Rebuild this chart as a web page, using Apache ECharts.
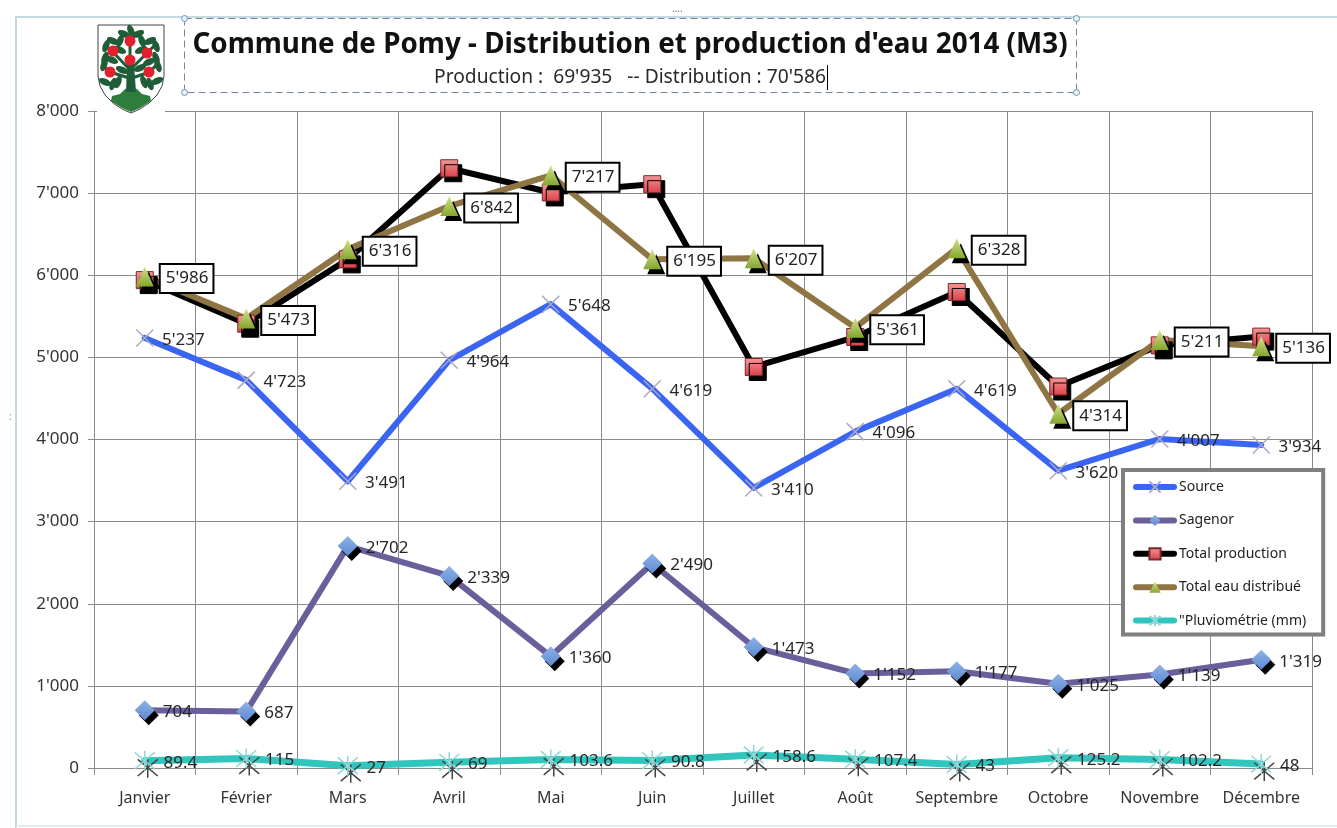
<!DOCTYPE html>
<html>
<head>
<meta charset="utf-8">
<title>Commune de Pomy - Distribution et production d'eau 2014</title>
<style>
  html, body { margin: 0; padding: 0; background: #fff; }
  #chart { width: 1337px; height: 828px; }
</style>
<script src="https://cdn.jsdelivr.net/npm/echarts@6/dist/echarts.min.js"></script>
</head>
<body>
<div id="chart"></div>
<script>
// Données (M3)
const MONTHS = ['Janvier', 'Février', 'Mars', 'Avril', 'Mai', 'Juin', 'Juillet', 'Août', 'Septembre', 'Octobre', 'Novembre', 'Décembre'];
const SOURCE = [5237, 4723, 3491, 4964, 5648, 4619, 3410, 4096, 4619, 3620, 4007, 3934];
const SAGENOR = [704, 687, 2702, 2339, 1360, 2490, 1473, 1152, 1177, 1025, 1139, 1319];
const TOTAL_PROD = [5941, 5410, 6193, 7303, 7008, 7109, 4883, 5248, 5796, 4645, 5146, 5253];
const TOTAL_DIST = [5986, 5473, 6316, 6842, 7217, 6195, 6207, 5361, 6328, 4314, 5211, 5136];
const PLUIE = [89.4, 115, 27, 69, 103.6, 90.8, 158.6, 107.4, 43, 125.2, 102.2, 48];

const FONT = '"Noto Sans", sans-serif';
const GRID_COLOR = '#8a8a8a';
const TEXT_COLOR = '#262626';
const SHADOW = { shadowColor: '#000', shadowBlur: 0, shadowOffsetX: 4, shadowOffsetY: 5 };

// 5237 -> 5'237
const fmt = (v) => (v >= 1000 ? Math.floor(v / 1000) + "'" + String(v % 1000).padStart(3, '0') : String(v));

const gradient = (top, bottom) => ({
  type: 'linear', x: 0, y: 0, x2: 0, y2: 1,
  colorStops: [{ offset: 0, color: top }, { offset: 1, color: bottom }],
});

const plainLabel = {
  show: true, position: 'right', distance: 8, offset: [0, 2],
  fontFamily: FONT, fontSize: 17, color: TEXT_COLOR,
  formatter: (p) => fmt(p.value),
};
const boxLabel = {
  ...plainLabel, distance: 7, color: '#222',
  backgroundColor: '#fff', borderColor: '#000', borderWidth: 2, padding: [5, 4, 5, 5],
};

function lineSeries(name, data, color, width, extra) {
  return {
    name, data, type: 'line',
    showAllSymbol: true,
    clip: false,
    lineStyle: { color, width, cap: 'round', join: 'round' },
    emphasis: { disabled: true },
    animation: false,
    ...extra,
  };
}

// Armoiries, titre encadré et cadre de sélection : décor autour du graphique
function decor() {
  const dark = '#1f5c38', green = '#2f7d3c', red = '#e3202e';
  const els = [];
  const frame = { stroke: '#c3dbe0', lineWidth: 2, fill: null };
  els.push({ type: 'polyline', shape: { points: [[16, 828], [16, 17], [1337, 17]] }, style: frame, z: 1 });
  els.push({ type: 'line', shape: { x1: 16, y1: 826, x2: 1337, y2: 826 }, style: { stroke: '#dfeef1', lineWidth: 2 }, z: 1 });
  els.push({ type: 'text', x: 672, y: 4, style: { text: '....', font: '10px ' + FONT, fill: '#777' }, z: 1 });
  els.push({ type: 'text', x: 9, y: 412, style: { text: ':', font: '10px ' + FONT, fill: '#888' }, z: 1 });
  // cadre pointillé du titre
  els.push({
    type: 'rect', shape: { x: 184.5, y: 18.5, width: 892, height: 74 },
    style: { fill: null, stroke: '#75879a', lineWidth: 1, lineDash: [7, 4] }, z: 20,
  });
  [[184.5, 18.5], [1076.5, 18.5], [184.5, 92.5], [1076.5, 92.5]].forEach(([cx, cy]) => {
    els.push({ type: 'circle', shape: { cx, cy, r: 3 }, style: { fill: '#e8f1f8', stroke: '#6d94b8', lineWidth: 1 }, z: 21 });
  });
  // curseur de saisie
  els.push({ type: 'line', shape: { x1: 827.5, y1: 65, x2: 827.5, y2: 90 }, style: { stroke: '#000', lineWidth: 1 }, z: 21 });
  // armoiries
  els.push({ type: 'rect', shape: { x: 97, y: 22, width: 68, height: 94 }, style: { fill: '#fff' }, z: 20 });
  els.push({
    type: 'polygon',
    shape: { points: [[98, 25], [164, 25], [164, 76], [162, 86], [157, 95], [149, 103], [140, 109], [131, 113], [122, 109], [113, 103], [105, 95], [100, 86], [98, 76]] },
    style: { fill: '#fff', stroke: '#444', lineWidth: 1 }, z: 21,
  });
  els.push({
    type: 'polygon',
    shape: { points: [[111, 101], [112, 96], [120, 94], [125, 89], [131, 87], [137, 89], [142, 94], [150, 96], [151, 101], [140, 108], [131, 112], [122, 108]] },
    style: { fill: green }, z: 22,
  });
  els.push({
    type: 'polygon',
    shape: { points: [[126, 92], [127, 64], [134, 64], [136, 92]] },
    style: { fill: dark }, z: 22,
  });
  [[[130, 70], [130, 36]], [[130, 70], [113, 52]], [[130, 70], [147, 53]], [[129, 78], [110, 72]], [[132, 78], [150, 72]], [[113, 52], [104, 45]], [[147, 53], [156, 44]], [[110, 72], [103, 66]], [[150, 72], [157, 64]]].forEach(([a, b]) => {
    els.push({ type: 'line', shape: { x1: a[0], y1: a[1], x2: b[0], y2: b[1] }, style: { stroke: dark, lineWidth: 3 }, z: 22 });
  });
  [[131, 31], [124, 34], [138, 34], [120, 41], [142, 41], [113, 41], [150, 41], [106, 46], [156, 46], [120, 50], [141, 50], [105, 58], [156, 58], [112, 60], [149, 62], [104, 65], [158, 66], [122, 70], [140, 68], [118, 82], [144, 82], [105, 82], [157, 81], [113, 84], [150, 84]].forEach(([x, y], i) => {
    els.push({
      type: 'ellipse', x, y, rotation: (i % 4 - 1.5) * 0.8,
      shape: { cx: 0, cy: 0, rx: 6.5, ry: 3.2 }, style: { fill: dark }, z: 22,
    });
  });
  [[130, 41], [113, 51], [147, 53], [130, 60], [110, 72], [149, 72]].forEach(([cx, cy]) => {
    els.push({ type: 'circle', shape: { cx, cy, r: 5.5 }, style: { fill: red }, z: 23 });
  });
  return els.map((e) => ({ ...e, silent: true }));
}

const chart = echarts.init(document.getElementById('chart'), null, { renderer: 'canvas' });
chart.setOption({
  backgroundColor: '#fff',
  animation: false,
  title: [
    {
      text: "Commune de Pomy - Distribution et production d'eau 2014 (M3)",
      left: 625, top: 26, textAlign: 'center',
      textStyle: { fontFamily: FONT, fontSize: 27.8, fontWeight: 'bold', color: '#111' },
    },
    {
      text: "Production :  69'935   -- Distribution : 70'586",
      left: 625, top: 63, textAlign: 'center',
      textStyle: { fontFamily: FONT, fontSize: 19.2, fontWeight: 'normal', color: '#2a2a2a' },
    },
  ],
  grid: { left: 94, right: 25, top: 111, bottom: 60, containLabel: false },
  xAxis: {
    type: 'category',
    data: MONTHS,
    boundaryGap: true,
    axisLine: { lineStyle: { color: GRID_COLOR, width: 1 } },
    axisTick: { show: true, alignWithLabel: false, length: 7, lineStyle: { color: GRID_COLOR } },
    splitLine: { show: true, lineStyle: { color: GRID_COLOR, width: 1 } },
    axisLabel: { interval: 0, margin: 22, fontFamily: FONT, fontSize: 16, color: '#333' },
  },
  yAxis: {
    type: 'value',
    min: 0, max: 8000, interval: 1000,
    axisLine: { show: true, lineStyle: { color: GRID_COLOR, width: 1 } },
    axisTick: { show: true, length: 6, lineStyle: { color: GRID_COLOR } },
    splitLine: { show: true, lineStyle: { color: GRID_COLOR, width: 1 } },
    axisLabel: { margin: 15, padding: [2, 0, 0, 0], fontFamily: FONT, fontSize: 17, color: '#333', formatter: fmt },
  },
  legend: {
    orient: 'vertical',
    left: 1123, top: 470,
    padding: [10, 17, 7, 10],
    itemWidth: 38, itemHeight: 14, itemGap: 19.4,
    backgroundColor: '#fff',
    borderColor: '#7f7f7f', borderWidth: 4,
    textStyle: { fontFamily: FONT, fontSize: 14, color: '#222' },
    lineStyle: { width: 6 },
    itemStyle: { shadowColor: 'transparent', shadowOffsetX: 0, shadowOffsetY: 0 },
    z: 15,
  },
  series: [
    lineSeries('Source', SOURCE, '#3a64f2', 6, {
      symbol: 'path://M0 0L10 10M10 0L0 10', symbolSize: 17,
      itemStyle: { color: 'transparent', borderColor: '#a9a9c4', borderWidth: 1.5 },
      label: plainLabel,
    }),
    lineSeries('Sagenor', SAGENOR, '#6b5f9b', 6, {
      symbol: 'diamond', symbolSize: 20,
      itemStyle: { color: gradient('#8fb2e6', '#5d8ad2'), ...SHADOW },
      label: plainLabel,
    }),
    lineSeries('Total production', TOTAL_PROD, '#000000', 6, {
      symbol: 'rect', symbolSize: 17,
      itemStyle: { color: gradient('#f29a9a', '#dc3e48'), borderColor: '#7a2a2a', borderWidth: 1, ...SHADOW },
      label: { show: false },
    }),
    lineSeries('Total eau distribué', TOTAL_DIST, '#8f7544', 6, {
      symbol: 'triangle', symbolSize: [18, 20],
      itemStyle: { color: gradient('#d5e28c', '#84a62e'), ...SHADOW },
      label: boxLabel,
    }),
    lineSeries('"Pluviométrie (mm)', PLUIE, '#30c6be', 7, {
      symbol: 'path://M0 0L10 10M10 0L0 10M5 -1L5 11', symbolSize: 20,
      itemStyle: { color: 'transparent', borderColor: '#8fd8d8', borderWidth: 1.5, shadowColor: '#444', shadowBlur: 0, shadowOffsetX: 3, shadowOffsetY: 7 },
      label: plainLabel,
    }),
  ],
  graphic: { elements: decor() },
});
</script>
</body>
</html>
